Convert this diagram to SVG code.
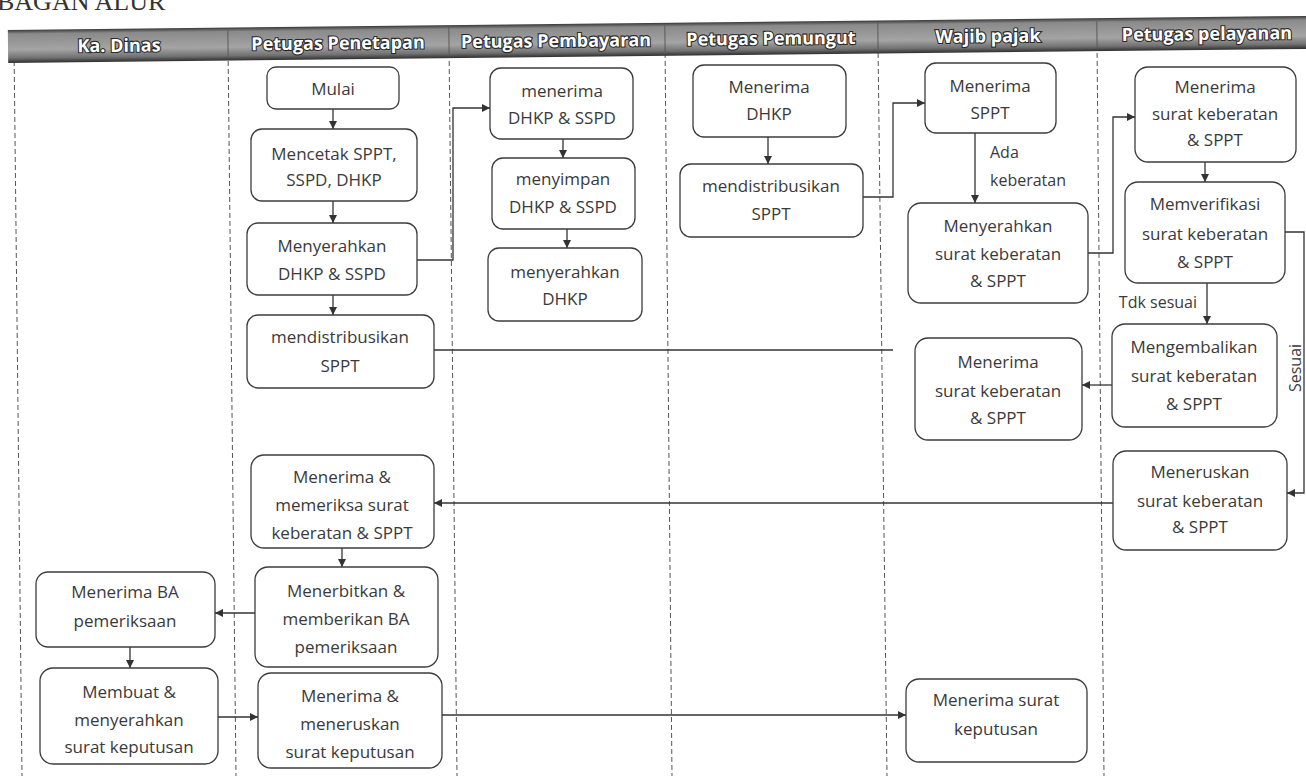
<svg xmlns="http://www.w3.org/2000/svg" width="1306" height="776" viewBox="0 0 1306 776">
<style>
.box{fill:#fff;stroke:#3c3c3c;stroke-width:1.3}
.t{font-family:"Open Sans","DejaVu Sans",sans-serif;font-size:17px;fill:#3a3a3a;text-anchor:middle}
.lbl{font-family:"Open Sans","DejaVu Sans",sans-serif;font-size:16px;fill:#3a3a3a}
.hd{font-family:"Open Sans","DejaVu Sans",sans-serif;font-size:18px;font-weight:bold;fill:#fff;stroke:#2a2a2a;stroke-width:2.2;paint-order:stroke;text-anchor:middle}
.lane{stroke:#555;stroke-width:1;stroke-dasharray:5 3;fill:none}
.c{fill:none;stroke:#333;stroke-width:1.3}
.ttl{font-family:"Liberation Serif",serif;font-size:26px;fill:#333}
</style>
<defs>
<linearGradient id="hg" x1="0" y1="0" x2="0" y2="1">
<stop offset="0" stop-color="#3a3a3a"/>
<stop offset="0.12" stop-color="#8a8a8a"/>
<stop offset="0.6" stop-color="#a4a4a4"/>
<stop offset="0.85" stop-color="#727272"/>
<stop offset="1" stop-color="#2e2e2e"/>
</linearGradient>
<marker id="ah" viewBox="0 0 10 10" refX="10" refY="5" markerWidth="8" markerHeight="8" markerUnits="userSpaceOnUse" orient="auto">
<path d="M0,0 L10,5 L0,10 z" fill="#333"/>
</marker>
</defs>
<rect width="1306" height="776" fill="#fff"/>
<text class="ttl" x="-3" y="10">BAGAN ALUR</text>
<g id="lanes">
<line class="lane" x1="14" y1="45" x2="22" y2="776"/>
<line class="lane" x1="228" y1="45" x2="236" y2="776"/>
<line class="lane" x1="449" y1="45" x2="457" y2="776"/>
<line class="lane" x1="665" y1="45" x2="672" y2="776"/>
<line class="lane" x1="878" y1="45" x2="887" y2="776"/>
<line class="lane" x1="1097" y1="45" x2="1104" y2="776"/>
</g>
<g id="header" transform="rotate(-0.62 8 46)">
<rect x="8" y="30" width="1310" height="33" fill="url(#hg)"/>
<g stroke="#5a5a5a" stroke-width="1">
<line x1="228" y1="32" x2="228" y2="61"/>
<line x1="449" y1="32" x2="449" y2="61"/>
<line x1="665" y1="32" x2="665" y2="61"/>
<line x1="878" y1="32" x2="878" y2="61"/>
<line x1="1097" y1="32" x2="1097" y2="61"/>
</g>
<text class="hd" x="119" y="53">Ka. Dinas</text>
<text class="hd" x="338" y="53">Petugas Penetapan</text>
<text class="hd" x="556" y="53">Petugas Pembayaran</text>
<text class="hd" x="771" y="53">Petugas Pemungut</text>
<text class="hd" x="988" y="53">Wajib pajak</text>
<text class="hd" x="1207" y="53">Petugas pelayanan</text>
</g>
<g id="connectors">
<path class="c" d="M333,109 V129" marker-end="url(#ah)"/>
<path class="c" d="M333,201 V223" marker-end="url(#ah)"/>
<path class="c" d="M333,295 V315" marker-end="url(#ah)"/>
<path class="c" d="M417,260 H453 V108 H490" marker-end="url(#ah)"/>
<path class="c" d="M563,139 V158" marker-end="url(#ah)"/>
<path class="c" d="M567,229 V248" marker-end="url(#ah)"/>
<path class="c" d="M768,137 V164" marker-end="url(#ah)"/>
<path class="c" d="M863,197 H893 V103 H925" marker-end="url(#ah)"/>
<path class="c" d="M434,350 H893"/>
<path class="c" d="M975,133 V203" marker-end="url(#ah)"/>
<text class="lbl" x="990" y="158">Ada</text>
<text class="lbl" x="990" y="186">keberatan</text>
<path class="c" d="M1088,253 H1113 V117 H1135" marker-end="url(#ah)"/>
<path class="c" d="M1205,162 V182" marker-end="url(#ah)"/>
<path class="c" d="M1207,283 V324" marker-end="url(#ah)"/>
<text class="lbl" x="1197" y="308" text-anchor="end">Tdk sesuai</text>
<path class="c" d="M1112,385 H1082" marker-end="url(#ah)"/>
<path class="c" d="M1285,232 H1304 V493 H1287" marker-end="url(#ah)"/>
<text class="lbl" x="0" y="0" text-anchor="middle" transform="translate(1301,368) rotate(-90)">Sesuai</text>
<path class="c" d="M1113,503 H434" marker-end="url(#ah)"/>
<path class="c" d="M342,548 V567" marker-end="url(#ah)"/>
<path class="c" d="M255,613 H215" marker-end="url(#ah)"/>
<path class="c" d="M130,647 V668" marker-end="url(#ah)"/>
<path class="c" d="M218,717 H258" marker-end="url(#ah)"/>
<path class="c" d="M442,715 H906" marker-end="url(#ah)"/>
</g>
<g id="n1"><rect class="box" x="267" y="67" width="132" height="42" rx="9"/><text class="t" x="333" y="95">Mulai</text></g>
<g id="n2"><rect class="box" x="251" y="129" width="166" height="72" rx="11"/><text class="t" x="334" y="160">Mencetak SPPT,</text><text class="t" x="334" y="186">SSPD, DHKP</text></g>
<g id="n3"><rect class="box" x="247" y="223" width="170" height="72" rx="11"/><text class="t" x="332" y="252">Menyerahkan</text><text class="t" x="332" y="280">DHKP &amp; SSPD</text></g>
<g id="n4"><rect class="box" x="247" y="315" width="187" height="73" rx="11"/><text class="t" x="340" y="343">mendistribusikan</text><text class="t" x="340" y="372">SPPT</text></g>
<g id="n5"><rect class="box" x="490" y="68" width="143" height="71" rx="11"/><text class="t" x="562" y="97">menerima</text><text class="t" x="562" y="124">DHKP &amp; SSPD</text></g>
<g id="n6"><rect class="box" x="492" y="158" width="143" height="71" rx="11"/><text class="t" x="563" y="185">menyimpan</text><text class="t" x="563" y="213">DHKP &amp; SSPD</text></g>
<g id="n7"><rect class="box" x="488" y="248" width="154" height="73" rx="11"/><text class="t" x="565" y="278">menyerahkan</text><text class="t" x="565" y="305">DHKP</text></g>
<g id="n8"><rect class="box" x="693" y="65" width="153" height="72" rx="11"/><text class="t" x="769" y="93">Menerima</text><text class="t" x="769" y="120">DHKP</text></g>
<g id="n9"><rect class="box" x="680" y="164" width="183" height="73" rx="11"/><text class="t" x="771" y="192">mendistribusikan</text><text class="t" x="771" y="220">SPPT</text></g>
<g id="n10"><rect class="box" x="925" y="63" width="131" height="70" rx="11"/><text class="t" x="990" y="92">Menerima</text><text class="t" x="990" y="119">SPPT</text></g>
<g id="n11"><rect class="box" x="908" y="203" width="180" height="100" rx="13"/><text class="t" x="998" y="232">Menyerahkan</text><text class="t" x="998" y="260">surat keberatan</text><text class="t" x="998" y="287">&amp; SPPT</text></g>
<g id="n12"><rect class="box" x="1135" y="67" width="161" height="95" rx="13"/><text class="t" x="1215" y="93">Menerima</text><text class="t" x="1215" y="120">surat keberatan</text><text class="t" x="1215" y="146">&amp; SPPT</text></g>
<g id="n13"><rect class="box" x="1125" y="182" width="160" height="101" rx="13"/><text class="t" x="1205" y="210">Memverifikasi</text><text class="t" x="1205" y="240">surat keberatan</text><text class="t" x="1205" y="268">&amp; SPPT</text></g>
<g id="n14"><rect class="box" x="1112" y="324" width="165" height="103" rx="13"/><text class="t" x="1194" y="353">Mengembalikan</text><text class="t" x="1194" y="382">surat keberatan</text><text class="t" x="1194" y="410">&amp; SPPT</text></g>
<g id="n15"><rect class="box" x="915" y="338" width="167" height="102" rx="13"/><text class="t" x="998" y="368">Menerima</text><text class="t" x="998" y="397">surat keberatan</text><text class="t" x="998" y="424">&amp; SPPT</text></g>
<g id="n16"><rect class="box" x="1113" y="451" width="174" height="99" rx="13"/><text class="t" x="1200" y="478">Meneruskan</text><text class="t" x="1200" y="507">surat keberatan</text><text class="t" x="1200" y="533">&amp; SPPT</text></g>
<g id="n17"><rect class="box" x="251" y="455" width="183" height="93" rx="13"/><text class="t" x="342" y="483">Menerima &amp;</text><text class="t" x="342" y="511">memeriksa surat</text><text class="t" x="342" y="539">keberatan &amp; SPPT</text></g>
<g id="n18"><rect class="box" x="255" y="567" width="183" height="100" rx="13"/><text class="t" x="346" y="597">Menerbitkan &amp;</text><text class="t" x="346" y="625">memberikan BA</text><text class="t" x="346" y="653">pemeriksaan</text></g>
<g id="n19"><rect class="box" x="36" y="572" width="179" height="75" rx="12"/><text class="t" x="125" y="598">Menerima BA</text><text class="t" x="125" y="627">pemeriksaan</text></g>
<g id="n20"><rect class="box" x="40" y="668" width="178" height="96" rx="13"/><text class="t" x="129" y="698">Membuat &amp;</text><text class="t" x="129" y="726">menyerahkan</text><text class="t" x="129" y="753">surat keputusan</text></g>
<g id="n21"><rect class="box" x="258" y="673" width="184" height="95" rx="13"/><text class="t" x="350" y="702">Menerima &amp;</text><text class="t" x="350" y="730">meneruskan</text><text class="t" x="350" y="758">surat keputusan</text></g>
<g id="n22"><rect class="box" x="906" y="679" width="181" height="83" rx="13"/><text class="t" x="996" y="706">Menerima surat</text><text class="t" x="996" y="735">keputusan</text></g>
</svg>
